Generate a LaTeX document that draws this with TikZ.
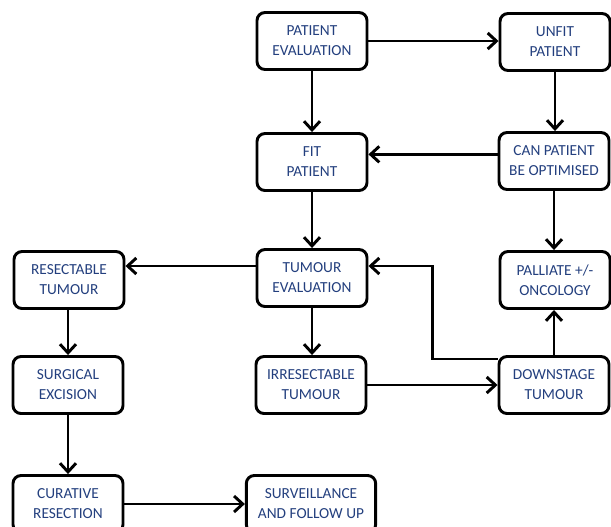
\documentclass[tikz,border=0pt]{standalone}
\usepackage{fontspec}
\setmainfont{Carlito}
\usetikzlibrary{positioning,arrows.meta,calc}
\definecolor{textNavy}{HTML}{233F7E}
\tikzset{
  stepbox/.style={
    draw, line width=2.2pt, rounded corners=6pt,
    minimum width=82.5pt, minimum height=42.75pt,
    align=center, text=textNavy,
    font=\fontsize{11.5}{15}\selectfont
  },
  wideBox/.style={stepbox, minimum width=97pt},
  flowArrow/.style={
    draw, line width=2.2pt, -{Straight Barb[length=6.5pt,width=12pt,line width=2.2pt]}
  }
}
\begin{document}
\begin{tikzpicture}[x=0.75pt,y=-0.75pt]
\clip (0,0) rectangle (611,526);
\fill[white] (0,0) rectangle (611,526);

% ── Patient assessment ─────────────────────────────────
\node[stepbox] (PE) at (312,41)  {PATIENT\\EVALUATION};
\node[stepbox] (UP) at (555,42)  {UNFIT\\PATIENT};
\node[stepbox] (FP) at (312,162) {FIT\\PATIENT};
\node[stepbox] (CP) at (554,161) {CAN PATIENT\\BE OPTIMISED};

% ── Tumour assessment ──────────────────────────────────
\node[stepbox] (TE) at (312,278) {TUMOUR\\EVALUATION};
\node[stepbox] (RT) at (69,280)  {RESECTABLE\\TUMOUR};
\node[stepbox] (PO) at (555,280) {PALLIATE +/-\\ONCOLOGY};
\node[stepbox] (SE) at (68,385)  {SURGICAL\\EXCISION};
\node[stepbox] (IT) at (311,385) {IRRESECTABLE\\TUMOUR};
\node[stepbox] (DT) at (554,385) {DOWNSTAGE\\TUMOUR};

% ── Outcome ────────────────────────────────────────────
\node[stepbox] (CR) at (68,504)  {CURATIVE\\RESECTION};
\node[wideBox] (SF) at (311,504) {SURVEILLANCE\\AND FOLLOW UP};

% ── EDGES ──────────────────────────────────────────────
\draw[flowArrow] (PE.east) -- (PE.east -| UP.west);
\draw[flowArrow] (PE.south) -- (FP.north);
\draw[flowArrow] (UP.south) -- (UP.south |- CP.north);
\draw[flowArrow] ([yshift=5pt]CP.west) -- ([yshift=5pt]CP.west -| FP.east);
\draw[flowArrow] (FP.south) -- (TE.north);
\draw[flowArrow] (CP.south) -- (CP.south |- PO.north);

\draw[flowArrow] ([yshift=9pt]TE.west) -- ([yshift=9pt]TE.west -| RT.east);
\draw[flowArrow] (TE.south) -- (TE.south |- IT.north);
\draw[flowArrow] (RT.south -| SE.north) -- (SE.north);
\draw[flowArrow] (SE.south) -- (CR.north);
\draw[flowArrow] (IT.east) -- (IT.east -| DT.west);
\draw[flowArrow] (DT.north) -- (DT.north |- PO.south);
\draw[flowArrow] ([yshift=19.5pt]DT.west) -- ++(-48.75pt,0)
  |- ([yshift=9pt]TE.east);

\draw[flowArrow] (CR.east) -- (CR.east -| SF.west);
\end{tikzpicture}
\end{document}
